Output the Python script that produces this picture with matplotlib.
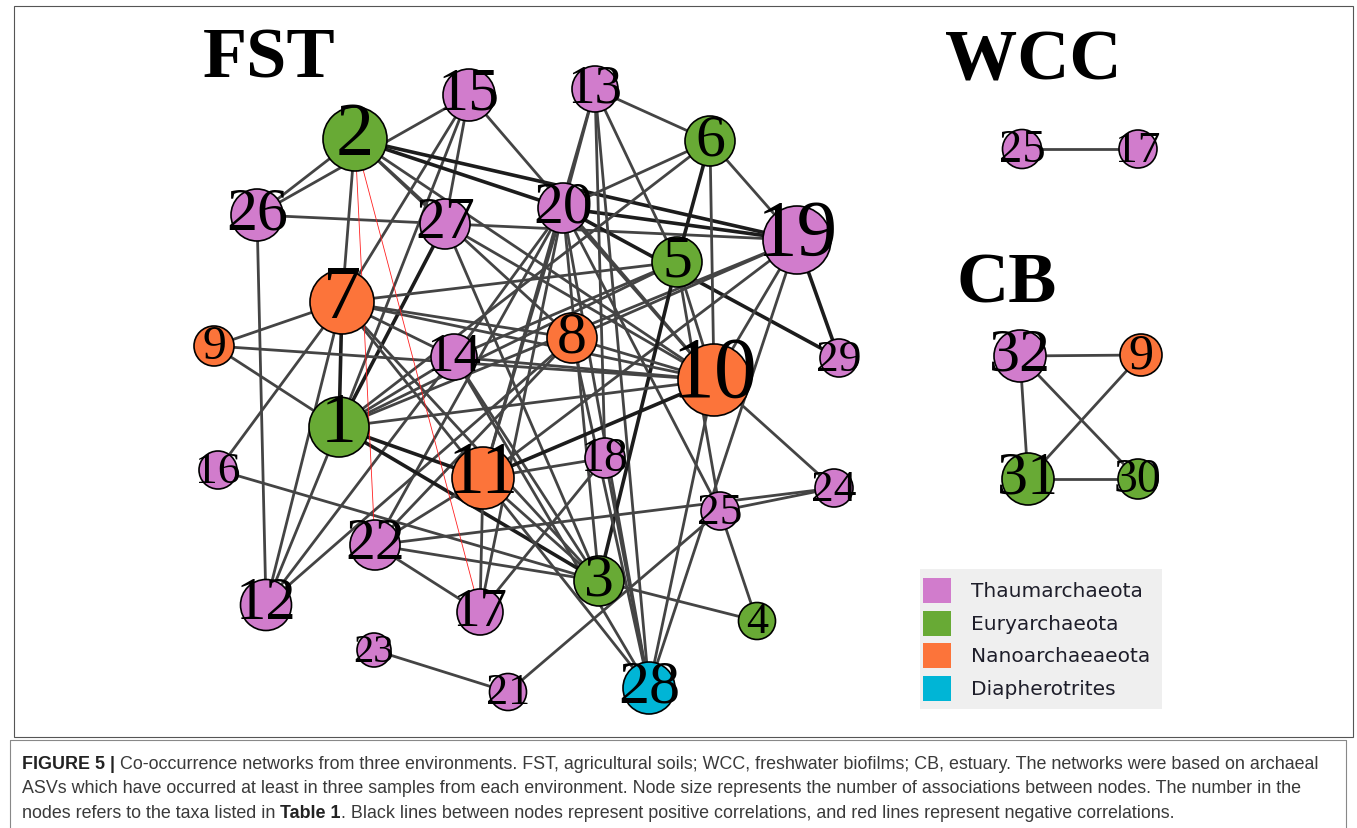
import matplotlib
matplotlib.use("Agg")
import matplotlib.pyplot as plt
from matplotlib.patches import Circle, Rectangle
from matplotlib import font_manager

# ---- node data (FST network) ----
fst_ids = [15, 13, 2, 6, 26, 27, 20, 5, 19, 7, 9, 14, 8, 10, 29, 1, 16, 11,
           18, 25, 24, 22, 3, 4, 12, 17, 23, 21, 28]
fst_x = [469, 595, 355, 710, 257, 445, 563, 677, 797, 342, 214, 454, 572, 714,
         839, 339, 218, 483, 605, 720, 834, 375, 599, 757, 266, 480, 374, 508, 649]
fst_y = [96, 90, 140, 142, 216, 225, 209, 263, 241, 303, 347, 358, 339, 381,
         359, 428, 471, 479, 459, 512, 489, 546, 582, 622, 606, 613, 651, 693, 689]
fst_r = [26, 23, 32, 25, 26, 25, 25, 25, 34, 32, 20, 23, 25, 36,
         19, 30, 19, 31, 20, 19, 19, 25, 25, 18.5, 25.5, 23, 17, 18.5, 26]
fst_group = ['T', 'T', 'E', 'E', 'T', 'T', 'T', 'E', 'T', 'N', 'N', 'T', 'N', 'N',
             'T', 'E', 'T', 'N', 'T', 'T', 'T', 'T', 'E', 'E', 'T', 'T', 'T', 'T', 'D']

fst_pos_edges = [
    (15, 26), (2, 26), (15, 7), (15, 1), (15, 27), (15, 10),
    (2, 19), (2, 20), (2, 27), (2, 10), (2, 8), (2, 7),
    (26, 19), (26, 12), (27, 1), (27, 10), (27, 3),
    (20, 29), (20, 19), (20, 6), (20, 13), (20, 14), (20, 22), (20, 17),
    (20, 11), (20, 3), (20, 28), (20, 10), (20, 25),
    (6, 5), (6, 10), (6, 1), (13, 6), (6, 19), (13, 5), (13, 28), (13, 11),
    (19, 10), (19, 28), (19, 29), (19, 8), (19, 1), (19, 11),
    (5, 3), (5, 25), (5, 10), (5, 7), (5, 14), (5, 1),
    (7, 9), (7, 1), (7, 12), (7, 16), (7, 14), (7, 11), (7, 3), (7, 10), (7, 8),
    (9, 10), (9, 1), (14, 1), (14, 10), (14, 3), (14, 28), (14, 12),
    (8, 10), (8, 12), (8, 28), (8, 22),
    (1, 10), (1, 11), (1, 3), (1, 12), (16, 3),
    (11, 10), (11, 18), (11, 3), (11, 17), (11, 22), (11, 28),
    (18, 17), (18, 13), (18, 28), (22, 17), (22, 24), (22, 3),
    (3, 4), (25, 24), (25, 21), (25, 4), (10, 24), (10, 28), (23, 21),
]
fst_neg_edges = [(2, 22), (2, 17)]
fst_strong = [(2, 19), (2, 20), (20, 29), (6, 5), (5, 3), (11, 10), (1, 3),
              (20, 19), (7, 1), (27, 1), (1, 11), (19, 29)]

# ---- WCC network ----
wcc_ids = [25, 17]
wcc_x = [1022, 1138]
wcc_y = [150, 150]
wcc_r = [19.5, 19]
wcc_group = ['T', 'T']
wcc_edges = [(25, 17)]

# ---- CB network ----
cb_ids = [32, 9, 31, 30]
cb_x = [1020, 1141, 1028, 1138]
cb_y = [357, 356, 480, 480]
cb_r = [26, 21, 26, 20]
cb_group = ['T', 'N', 'E', 'E']
cb_edges = [(32, 9), (32, 31), (32, 30), (9, 31), (31, 30)]

groups = ['T', 'E', 'N', 'D']
group_names = ['Thaumarchaeota', 'Euryarchaeota', 'Nanoarchaeaeota', 'Diapherotrites']
group_colors = {'T': '#d17ccc', 'E': '#68aa35', 'N': '#fc743a', 'D': '#00b5d6'}

caption_lines = [
    ("FIGURE 5 |", " Co-occurrence networks from three environments. FST, agricultural soils; "
                   "WCC, freshwater biofilms; CB, estuary. The networks were based on archaeal", None),
    (None, "ASVs which have occurred at least in three samples from each environment. Node size "
           "represents the number of associations between nodes. The number in the", None),
    (None, "nodes refers to the taxa listed in ", ("Table 1", ". Black lines between nodes represent "
           "positive correlations, and red lines represent negative correlations.")),
]

SERIF = 'Liberation Serif'
names = {f.name for f in font_manager.fontManager.ttflist}
CAP_FONT = 'Liberation Sans Narrow' if 'Liberation Sans Narrow' in names else 'Liberation Sans'
CAP_SIZE = 13.3 if CAP_FONT == 'Liberation Sans Narrow' else 12.9


def draw_network(ax, ids, xs, ys, rs, grp, edges, neg=(), strong=()):
    pos = {i: (x, y) for i, x, y in zip(ids, xs, ys)}
    strong = set(strong)
    for a, b in edges:
        (x0, y0), (x1, y1) = pos[a], pos[b]
        if (a, b) in strong or (b, a) in strong:
            ax.plot([x0, x1], [y0, y1], color='#1c1c1c', lw=2.6, zorder=1,
                    solid_capstyle='butt')
        else:
            ax.plot([x0, x1], [y0, y1], color='#444444', lw=2.0, zorder=1,
                    solid_capstyle='butt')
    for a, b in neg:
        (x0, y0), (x1, y1) = pos[a], pos[b]
        ax.plot([x0, x1], [y0, y1], color='#ff2020', lw=0.6, zorder=1.5)
    for i, x, y, r, g in zip(ids, xs, ys, rs, grp):
        ax.add_patch(Circle((x, y), r, facecolor=group_colors[g], edgecolor='black',
                            lw=1.2, zorder=2))
        off = max(0, 0.55 * r - 7)
        ax.text(x, y - off + 0.79 * r, str(i), fontsize=1.72 * r, family=SERIF,
                ha='center', va='baseline', color='black', zorder=3)


fig = plt.figure(figsize=(13.57, 8.29), dpi=100)
ax = fig.add_axes([0, 0, 1, 1])
ax.set_xlim(0, 1357)
ax.set_ylim(829, 0)
ax.axis('off')

# frames
ax.add_patch(Rectangle((14, 7), 1339, 731, fill=False, edgecolor='#555555', lw=0.8))
ax.plot([10, 10, 1346, 1346], [829, 741, 741, 829], color='#888888', lw=0.8)

draw_network(ax, fst_ids, fst_x, fst_y, fst_r, fst_group, fst_pos_edges,
             fst_neg_edges, fst_strong)
draw_network(ax, wcc_ids, wcc_x, wcc_y, wcc_r, wcc_group, wcc_edges)
draw_network(ax, cb_ids, cb_x, cb_y, cb_r, cb_group, cb_edges)

ax.text(203, 77, 'FST', fontsize=52, family=SERIF, weight='bold', ha='left', va='baseline')
ax.text(945, 79, 'WCC', fontsize=52, family=SERIF, weight='bold', ha='left', va='baseline')
ax.text(957, 302, 'CB', fontsize=52, family=SERIF, weight='bold', ha='left', va='baseline')

# legend
ax.add_patch(Rectangle((920, 570), 242, 140, facecolor='#efefef', edgecolor='none', zorder=0))
for k, (g, name) in enumerate(zip(groups, group_names)):
    y0 = 579 + k * 32.7
    ax.add_patch(Rectangle((923, y0), 28, 25, facecolor=group_colors[g],
                           edgecolor='none', zorder=1))
    ax.text(971, y0 + 12.5, name, fontsize=14.5, family='DejaVu Sans', color='#1e1e2a',
            ha='left', va='center')

# caption
for k, (bold, rest, tail) in enumerate(caption_lines):
    yb = 769 + k * 24.5
    x0 = 22
    if bold:
        t = ax.text(x0, yb, bold, fontsize=CAP_SIZE, family=CAP_FONT, weight='bold',
                    color='#222222', ha='left', va='baseline')
        ax.annotate(rest, xy=(1, 0), xycoords=t, fontsize=CAP_SIZE, family=CAP_FONT,
                    color='#3a3a3a', ha='left', va='bottom')
    else:
        t = ax.text(x0, yb, rest, fontsize=CAP_SIZE, family=CAP_FONT,
                    color='#3a3a3a', ha='left', va='baseline')
        if tail:
            t2 = ax.annotate(tail[0], xy=(1, 0), xycoords=t, fontsize=CAP_SIZE,
                             family=CAP_FONT, weight='bold', color='#222222',
                             ha='left', va='bottom')
            ax.annotate(tail[1], xy=(1, 0), xycoords=t2, fontsize=CAP_SIZE,
                        family=CAP_FONT, color='#3a3a3a', ha='left', va='bottom')

fig.savefig('out.png', dpi=100)
